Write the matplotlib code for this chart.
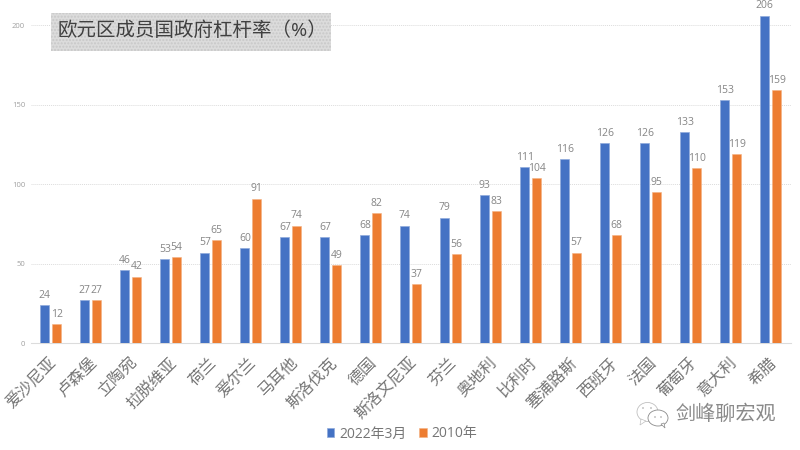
import matplotlib
matplotlib.use('Agg')
import matplotlib.pyplot as plt
import numpy as np
from matplotlib.patches import Rectangle, Ellipse, Polygon, Circle
from matplotlib.transforms import Affine2D, ScaledTranslation

# 数字用 Open Sans，中文用 Noto
plt.rcParams['font.family'] = ['Open Sans', 'Noto Sans CJK SC', 'DejaVu Sans']

countries = ['爱沙尼亚', '卢森堡', '立陶宛', '拉脱维亚', '荷兰', '爱尔兰', '马耳他', '斯洛伐克', '德国',
             '斯洛文尼亚', '芬兰', '奥地利', '比利时', '塞浦路斯', '西班牙', '法国', '葡萄牙', '意大利', '希腊']
y2022 = [24, 27, 46, 53, 57, 60, 67, 67, 68, 74, 79, 93, 111, 116, 126, 126, 133, 153, 206]
y2010 = [12, 27, 42, 54, 65, 91, 74, 49, 82, 37, 56, 83, 104, 57, 68, 95, 110, 119, 159]

BLUE = '#4472C4'
ORANGE = '#ED7D31'
GRAY = '#858585'

fig = plt.figure(figsize=(8, 4.5), dpi=100)
ax = fig.add_axes([30.7 / 800, (450 - 343.3) / 450, 760 / 800, 334 / 450])

x = np.arange(len(countries))
ax.bar(x - 0.146, y2022, width=0.23, color=BLUE, edgecolor='#8FAADC', linewidth=0.5, label='2022年3月', zorder=3)
ax.bar(x + 0.146, y2010, width=0.23, color=ORANGE, edgecolor='#F4B183', linewidth=0.4, label='2010年', zorder=3)

# 数据标签
for i in x:
    ax.annotate(str(y2022[i]), (i - 0.146, y2022[i]), xytext=(0, 3), textcoords='offset points',
                ha='center', va='bottom', fontsize=7.5, color=GRAY, annotation_clip=False, zorder=5)
    ax.annotate(str(y2010[i]), (i + 0.146, y2010[i]), xytext=(0, 3), textcoords='offset points',
                ha='center', va='bottom', fontsize=7.5, color=GRAY, annotation_clip=False, zorder=5)

ax.set_xlim(-0.5, len(countries) - 0.5)
ax.set_ylim(0, 210)
ax.set_yticks([0, 50, 100, 150, 200])
ax.tick_params(axis='y', length=0, labelsize=5.5, labelcolor='#a0a0a0', pad=4)
ax.tick_params(axis='x', length=0, pad=8.5)
ax.set_xticks(x)
ax.set_xticklabels(countries, rotation=45, ha='right', rotation_mode='anchor', fontsize=11.5, color='#757575')
shift = ScaledTranslation(-1.5 / 100, 0, fig.dpi_scale_trans)
for lab in ax.get_xticklabels():
    lab.set_transform(lab.get_transform() + shift)
ax.grid(axis='y', color='#dcdcdc', linestyle=(0, (1, 1)), linewidth=0.7, zorder=0)
for s in ['top', 'right', 'left']:
    ax.spines[s].set_visible(False)
ax.spines['bottom'].set_color('#dcdcdc')

handles, labels = ax.get_legend_handles_labels()
fig.legend(handles, labels, loc='center', bbox_to_anchor=(402 / 800, 1 - 434 / 450), ncol=2, frameon=False,
           fontsize=10, labelcolor='#757575', handlelength=0.55, handleheight=0.55, handletextpad=0.35, columnspacing=0.9)

# 标题框
px = Affine2D().scale(1, -1).translate(0, 450)
fig.patches.append(Rectangle((51, 13), 280, 38, transform=px, facecolor='#dcdcdc', edgecolor='#c8c8c8',
                             hatch='.....', linewidth=0, zorder=6))
fig.text(58 / 800, 1 - 30 / 450, '欧元区成员国政府杠杆率（%）', fontsize=14, color='#404040', va='center', ha='left', zorder=7)

# 水印
icon = '#8a8a8a'
fig.patches.append(Ellipse((647.5, 412), 21, 19, transform=px, facecolor='white', edgecolor='#c0c0c0', linewidth=0.6, zorder=6))
fig.patches.append(Polygon([(641, 419), (640, 425), (646, 421)], transform=px, facecolor='white', edgecolor='#c0c0c0', linewidth=0.5, zorder=6))
fig.patches.append(Ellipse((658, 418), 20, 16, transform=px, facecolor='white', edgecolor=icon, linewidth=0.6, zorder=7))
fig.patches.append(Polygon([(661, 424), (665, 428), (664, 423)], transform=px, facecolor='white', edgecolor=icon, linewidth=0.5, zorder=7))
for cx, cy in [(643, 408), (651, 408), (655, 417), (661, 417)]:
    fig.patches.append(Circle((cx, cy), 0.7, transform=px, facecolor=icon, edgecolor='none', zorder=8))
fig.text(675 / 800, 1 - 415 / 450, '剑峰聊宏观', fontsize=14.5, color='#8a8a8a', va='center', ha='left', zorder=7)

fig.savefig('out.png', dpi=100)
